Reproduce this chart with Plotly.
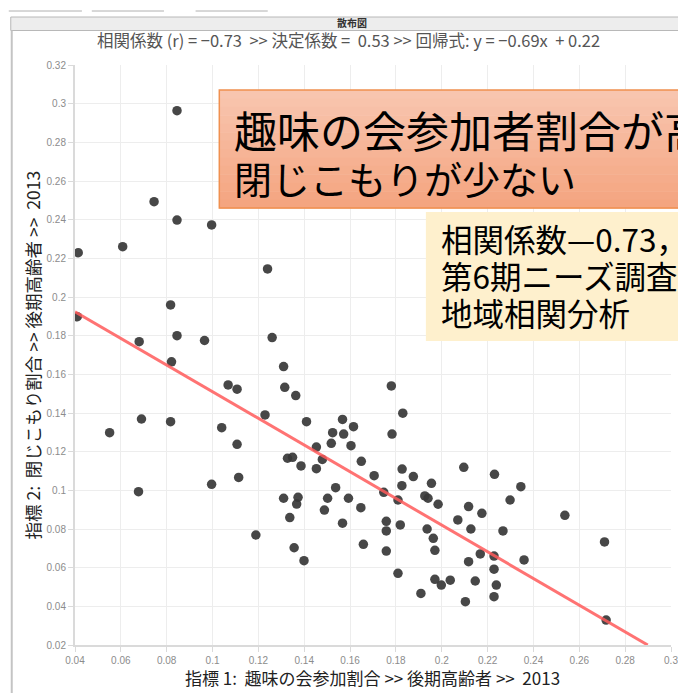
import plotly.graph_objects as go

# ---- data ----
x_vals = [0.0845, 0.0414, 0.0608, 0.0745, 0.0845, 0.0996, 0.124, 0.041, 0.0817, 0.068,
          0.0845, 0.0965, 0.126, 0.0821, 0.131, 0.1068, 0.1107, 0.1315, 0.1363, 0.1229,
          0.069, 0.0817, 0.0551, 0.104, 0.141, 0.1567, 0.1615, 0.1524, 0.1572, 0.1107,
          0.1518, 0.1453, 0.1604, 0.1327, 0.1349, 0.1479, 0.1386, 0.1453, 0.1649, 0.1705,
          0.1114, 0.0996, 0.0677, 0.1537, 0.1747, 0.131, 0.1373, 0.1367, 0.1502, 0.1593,
          0.1488, 0.1647, 0.1337, 0.1567, 0.1189, 0.1658, 0.1356, 0.1399, 0.1758, 0.1758,
          0.1758, 0.178, 0.183, 0.1783, 0.1827, 0.1876, 0.1826, 0.1955, 0.2096, 0.223,
          0.2345, 0.1809, 0.1926, 0.194, 0.1984, 0.2298, 0.2117, 0.2175, 0.1819, 0.1936,
          0.207, 0.2127, 0.2267, 0.1963, 0.197, 0.2228, 0.2168, 0.2117, 0.2359, 0.2228,
          0.2537, 0.271, 0.1809, 0.197, 0.1998, 0.2037, 0.2146, 0.2238, 0.1909, 0.2103,
          0.2228, 0.2717]
y_vals = [0.2964, 0.2229, 0.226, 0.2493, 0.2398, 0.2373, 0.2145, 0.1898, 0.1959, 0.1769,
          0.18, 0.1775, 0.179, 0.1665, 0.164, 0.1545, 0.1523, 0.1533, 0.149, 0.139,
          0.1369, 0.1355, 0.1298, 0.1324, 0.1355, 0.1367, 0.1329, 0.1298, 0.1291, 0.1238,
          0.1243, 0.1224, 0.1231, 0.1166, 0.1171, 0.116, 0.1126, 0.1112, 0.115, 0.1076,
          0.1067, 0.1031, 0.0993, 0.1014, 0.099, 0.0959, 0.0964, 0.0929, 0.0959, 0.0959,
          0.0898, 0.091, 0.0859, 0.083, 0.0769, 0.0721, 0.0703, 0.0636, 0.084, 0.079,
          0.0686, 0.154, 0.1399, 0.1291, 0.111, 0.1071, 0.1024, 0.1036, 0.1119, 0.1083,
          0.1019, 0.095, 0.0971, 0.0959, 0.0928, 0.095, 0.0916, 0.0881, 0.0821, 0.08,
          0.0847, 0.08, 0.079, 0.0752, 0.069, 0.066, 0.0671, 0.0631, 0.064, 0.0592,
          0.0871, 0.0733, 0.0571, 0.054, 0.051, 0.0535, 0.0531, 0.051, 0.0467, 0.0424,
          0.045, 0.0329]

slope = -0.69
intercept = 0.22
line_x = [0.04, (0.02 - intercept) / slope]
line_y = [slope * v + intercept for v in line_x]

x_ticks = [0.04, 0.06, 0.08, 0.1, 0.12, 0.14, 0.16, 0.18, 0.2, 0.22, 0.24, 0.26, 0.28, 0.3]
x_tick_labels = ["0.04", "0.06", "0.08", "0.1", "0.12", "0.14", "0.16", "0.18", "0.2",
                 "0.22", "0.24", "0.26", "0.28", "0.3"]
y_ticks = [0.02, 0.04, 0.06, 0.08, 0.1, 0.12, 0.14, 0.16, 0.18, 0.2, 0.22, 0.24, 0.26,
           0.28, 0.3, 0.32]
y_tick_labels = ["0.02", "0.04", "0.06", "0.08", "0.1", "0.12", "0.14", "0.16", "0.18",
                 "0.2", "0.22", "0.24", "0.26", "0.28", "0.3", "0.32"]

subtitle = "相関係数 (r) = −0.73  >> 決定係数 =  0.53 >> 回帰式: y = −0.69x  + 0.22"
x_title = "指標 1:  趣味の会参加割合 >> 後期高齢者 >>  2013"
y_title = "指標 2:  閉じこもり割合 >> 後期高齢者 >>  2013"
box1_lines = ["趣味の会参加者割合が高い", "閉じこもりが少ない"]
box2_lines = ["相関係数—0.73，p<0.001", "第6期ニーズ調査データ", "地域相関分析"]

# ---- layout geometry (page has an 8px body margin; positions below are in
# window pixels and converted to paper coordinates) ----
OFF = 8
W, H = 678, 685
L, T = 75 - OFF, 65 - OFF
PW, PH = 603, 580
R = W - L - PW
B = H - T - PH


def px(xw):
    return (xw - OFF - L) / PW


def py(yw):
    return (T + PH - (yw - OFF)) / PH


fig = go.Figure()
fig.add_trace(go.Scatter(
    x=x_vals, y=y_vals, mode="markers",
    marker=dict(size=9.5, color="rgba(55,55,55,0.92)", line=dict(width=0)),
    showlegend=False, hoverinfo="x+y"))
fig.add_trace(go.Scatter(
    x=line_x, y=line_y, mode="lines",
    line=dict(color="rgba(255,90,90,0.85)", width=3),
    showlegend=False, hoverinfo="skip"))

shapes = []
# top tab underlines
for a, b in [(8, 82), (92, 165), (197, 270)]:
    shapes.append(dict(type="line", xref="paper", yref="paper", x0=px(a), x1=px(b),
                       y0=py(11), y1=py(11), line=dict(color="#b0b0b0", width=1)))
# panel header
shapes.append(dict(type="rect", xref="paper", yref="paper", x0=px(10), x1=px(720),
                   y0=py(30.5), y1=py(17), fillcolor="#ededed",
                   line=dict(color="#b8b8b8", width=1)))
# panel left border
shapes.append(dict(type="line", xref="paper", yref="paper", x0=px(11), x1=px(11),
                   y0=py(30.5), y1=py(720), line=dict(color="#c4c4c4", width=2)))

# orange box with vertical gradient
top_c = (248, 197, 175)
bot_c = (244, 165, 128)
y_top, y_bot = 90, 208
n = 14
for i in range(n):
    t = i / (n - 1)
    c = tuple(int(round(top_c[k] + (bot_c[k] - top_c[k]) * t)) for k in range(3))
    ya = y_top + (y_bot - y_top) * i / n
    yb = y_top + (y_bot - y_top) * (i + 1) / n
    shapes.append(dict(type="rect", xref="paper", yref="paper", layer="above",
                       x0=px(221), x1=px(720), y0=py(yb + 0.5), y1=py(ya),
                       fillcolor="rgb(%d,%d,%d)" % c, line=dict(width=0)))
shapes.append(dict(type="rect", xref="paper", yref="paper", layer="above",
                   x0=px(221), x1=px(720), y0=py(y_bot), y1=py(y_top),
                   fillcolor="rgba(0,0,0,0)", line=dict(color="#f0904f", width=1.5)))
# yellow box
shapes.append(dict(type="rect", xref="paper", yref="paper", layer="above",
                   x0=px(430), x1=px(720), y0=py(341), y1=py(212),
                   fillcolor="#fef0cd", line=dict(width=0)))

annotations = [
    dict(text="<b>散布図</b>", xref="paper", yref="paper", x=px(355), y=py(23),
         showarrow=False, xanchor="center", yanchor="middle",
         font=dict(family="Noto Sans CJK JP", size=10, color="#333")),
    dict(text=subtitle, xref="paper", yref="paper", x=px(352), y=py(40),
         showarrow=False, xanchor="center", yanchor="middle",
         font=dict(family="Noto Sans CJK JP", size=16.5, color="#555")),
    dict(text=x_title, xref="paper", yref="paper", x=px(376), y=py(677),
         showarrow=False, xanchor="center", yanchor="middle",
         font=dict(family="Noto Sans CJK JP", size=17, color="#222")),
    dict(text=y_title, xref="paper", yref="paper", x=px(32), y=py(355),
         showarrow=False, xanchor="center", yanchor="middle", textangle=-90,
         font=dict(family="Noto Sans CJK JP", size=17.5, color="#222")),
]
for txt, yc, fs in zip(box1_lines, [128.5, 177], [43, 38]):
    annotations.append(dict(text=txt, xref="paper", yref="paper", x=px(234), y=py(yc),
                            showarrow=False, xanchor="left", yanchor="middle",
                            font=dict(family="Noto Sans CJK JP", size=fs, color="#000")))
for txt, yc in zip(box2_lines, [238.5, 275, 311.5]):
    annotations.append(dict(text=txt, xref="paper", yref="paper", x=px(443), y=py(yc),
                            showarrow=False, xanchor="left", yanchor="middle",
                            font=dict(family="Noto Sans CJK JP", size=31.5, color="#000")))

axis_common = dict(showgrid=True, gridcolor="#ededed", gridwidth=1, zeroline=False,
                   showline=True, linecolor="#dadada", linewidth=2,
                   ticks="outside", ticklen=5, tickcolor="#dadada", tickwidth=1,
                   tickfont=dict(family="Liberation Sans, Arial", size=10, color="#8c8c8c"))

fig.update_layout(
    width=W, height=H,
    margin=dict(l=L, r=R, t=T, b=B, pad=0),
    paper_bgcolor="white", plot_bgcolor="white",
    xaxis=dict(range=[0.04, 0.3], tickmode="array", tickvals=x_ticks,
               ticktext=x_tick_labels, **axis_common),
    yaxis=dict(range=[0.02, 0.32], tickmode="array", tickvals=y_ticks,
               ticktext=y_tick_labels, **axis_common),
    shapes=shapes,
    annotations=annotations,
)

fig.write_html("out.html")
